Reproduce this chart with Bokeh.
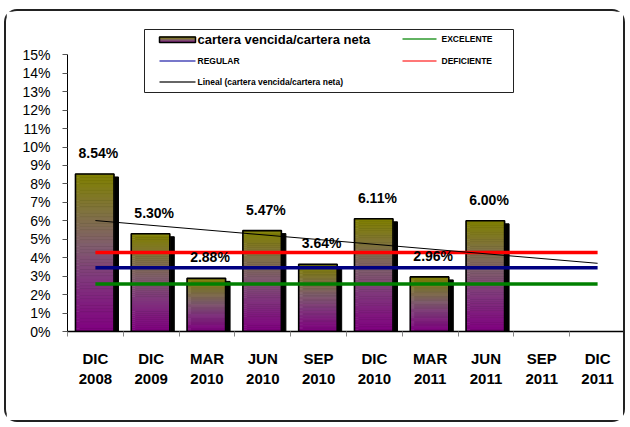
import numpy as np
from bokeh.plotting import figure
from bokeh.models import ColumnDataSource, FixedTicker, Range1d
from bokeh.core.properties import value
from bokeh.embed import file_html
from bokeh.resources import INLINE

# ---------------- data ----------------
categories = ["DIC\n2008", "DIC\n2009", "MAR\n2010", "JUN\n2010", "SEP\n2010",
              "DIC\n2010", "MAR\n2011", "JUN\n2011", "SEP\n2011", "DIC\n2011"]
ratio = [8.54, 5.30, 2.88, 5.47, 3.64, 6.11, 2.96, 6.00]   # cartera vencida/cartera neta (%)
excelente = 2.57
regular = 3.45
deficiente = 4.28
y_ticks = list(range(0, 16))
series_name = "cartera vencida/cartera neta"
legend_names = ["EXCELENTE", "REGULAR", "DEFICIENTE", "Lineal (cartera vencida/cartera neta)"]

# ---------------- layout (page pixels) ----------------
ML, MT, BW = 4, 9, 2          # css margin-left, margin-top, border width
OFF_X, OFF_Y = ML + BW, MT + BW
W, H = 621, 413
FRAME_L, FRAME_R = 67, 625
FRAME_T, ZERO_Y = 22, 331
PX_PER_PCT = 18.447
N_CAT = len(categories)
PX_PER_CAT = (FRAME_R - FRAME_L) / N_CAT
FONT = "Liberation Sans"


def dx(px):
    return (px - FRAME_L) / PX_PER_CAT


def dy(py):
    return (ZERO_Y - py) / PX_PER_PCT


p = figure(width=W, height=H,
           x_range=Range1d(0, N_CAT), y_range=Range1d(0, dy(FRAME_T)),
           output_backend="svg", toolbar_location=None,
           min_border_left=FRAME_L - OFF_X, min_border_right=W - (FRAME_R - OFF_X),
           min_border_top=FRAME_T - OFF_Y, min_border_bottom=H - (ZERO_Y - OFF_Y))
p.styles = {"border": "%dpx solid #222" % BW, "border-radius": "13px",
            "margin-left": "%dpx" % ML, "margin-top": "%dpx" % MT}
p.xgrid.visible = False
p.ygrid.visible = False
p.outline_line_color = None
p.background_fill_color = "white"
p.border_fill_color = "white"

# gradient helper: t=0 bottom (purple) -> t=1 top (olive)
STOPS = [(0.0, (128, 0, 128)), (0.35, (128, 58, 124)), (0.55, (128, 94, 108)),
         (0.75, (128, 114, 66)), (1.0, (128, 128, 0))]


def grad(t):
    for (t0, c0), (t1, c1) in zip(STOPS[:-1], STOPS[1:]):
        if t <= t1:
            f = (t - t0) / (t1 - t0)
            r, g, b = [int(round(a + (bb - a) * f)) for a, bb in zip(c0, c1)]
            return "#%02x%02x%02x" % (r, g, b)
    return "#808000"


BAR_W = 0.69
BAR_SHIFT = -0.012
xc = [i + 0.5 + BAR_SHIFT for i in range(len(ratio))]

# shadows
SX = 4.5 / PX_PER_CAT
SY = 3.0 / PX_PER_PCT
p.quad(left=[x - BAR_W / 2 + SX for x in xc], right=[x + BAR_W / 2 + SX for x in xc],
       top=[v - SY for v in ratio], bottom=0, fill_color="black", line_color="black")

# gradient slices
N = 48
L, R, B, T, C = [], [], [], [], []
for x, v in zip(xc, ratio):
    for k in range(N):
        L.append(x - BAR_W / 2)
        R.append(x + BAR_W / 2)
        B.append(v * k / N)
        T.append(v * (k + 1) / N)
        C.append(grad((k + 0.5) / N))
p.quad(left="l", right="r", bottom="b", top="t", fill_color="c", line_color="c", line_width=0.6,
       source=ColumnDataSource(dict(l=L, r=R, b=B, t=T, c=C)))
# bar outlines
p.quad(left=[x - BAR_W / 2 for x in xc], right=[x + BAR_W / 2 for x in xc],
       top=ratio, bottom=0, fill_color=None, line_color="black", line_width=1.6)

# reference lines
x_first, x_last = 0.5, N_CAT - 0.5
p.segment(x0=[x_first], x1=[x_last], y0=[deficiente], y1=[deficiente], line_color="#ff0000", line_width=3.5)
p.segment(x0=[x_first], x1=[x_last], y0=[regular], y1=[regular], line_color="#000080", line_width=3.5)
p.segment(x0=[x_first], x1=[x_last], y0=[excelente], y1=[excelente], line_color="#008000", line_width=3.5)

# linear trend
xs = np.arange(1, len(ratio) + 1)
m, c0 = np.polyfit(xs, ratio, 1)
p.line(x=[x_first, x_last], y=[m * 1 + c0, m * N_CAT + c0], line_color="black", line_width=1)

# data labels
p.text(x=[i + 0.5 for i in range(len(ratio))], y=ratio, text=["%.2f%%" % v for v in ratio],
       x_offset=3, y_offset=-21, text_align="center", text_baseline="middle",
       text_font=value(FONT), text_font_style="bold", text_font_size="14px", text_color="black")

# ---------------- legend (drawn manually) ----------------
p.quad(left=[dx(144)], right=[dx(513)], top=[dy(29)], bottom=[dy(92)],
       fill_color="white", line_color="#222", line_width=1)
NS = 6
sl, sr, sb, st, sc = [], [], [], [], []
for k in range(NS):
    sl.append(dx(159)); sr.append(dx(195))
    sb.append(dy(42) + (dy(36.5) - dy(42)) * k / NS)
    st.append(dy(42) + (dy(36.5) - dy(42)) * (k + 1) / NS)
    sc.append(grad((k + 0.5) / NS))
p.quad(left=sl, right=sr, bottom=sb, top=st, fill_color=sc, line_color=sc)
p.quad(left=[dx(159)], right=[dx(195)], top=[dy(36.5)], bottom=[dy(42)],
       fill_color=None, line_color="black", line_width=1.5)
p.text(x=[dx(197)], y=[dy(39)], text=[series_name], text_align="left", text_baseline="middle",
       text_font=value(FONT), text_font_style="bold", text_font_size="13px", text_color="black")

leg_lines = [((402, 436, 38.5), "#2e9a2e"), ((159, 195, 60.5), "#4a4ab8"),
             ((402, 436, 60.5), "#ff4a4a"), ((159, 195, 81.5), "#333333")]
leg_text_x = [441, 197, 441, 197]
for ((x0, x1, yy), col), tx, name in zip(leg_lines, leg_text_x, legend_names):
    p.segment(x0=[dx(x0)], x1=[dx(x1)], y0=[dy(yy)], y1=[dy(yy)], line_color=col, line_width=1.6)
    p.text(x=[dx(tx)], y=[dy(yy)], text=[name], text_align="left", text_baseline="middle",
           text_font=value(FONT), text_font_style="bold", text_font_size="8.5px", text_color="black")

# ---------------- axes ----------------
ya = p.yaxis[0]
ya.ticker = FixedTicker(ticks=y_ticks)
ya.major_label_overrides = {t: "%d%%" % t for t in y_ticks}
ya.bounds = (0, 15)
ya.axis_line_color = "black"
ya.axis_line_width = 1
ya.major_tick_out = 5
ya.major_tick_in = 0
ya.major_tick_line_color = "#555"
ya.minor_tick_line_color = None
ya.major_label_text_font = FONT
ya.major_label_text_font_size = "14px"
ya.major_label_text_color = "black"
ya.major_label_standoff = 12

xa = p.xaxis[0]
centers = [i + 0.5 for i in range(N_CAT)]
xa.ticker = FixedTicker(ticks=centers, minor_ticks=list(range(N_CAT + 1)))
xa.major_label_overrides = {c: lab for c, lab in zip(centers, categories)}
xa.axis_line_color = "black"
xa.axis_line_width = 1.5
xa.major_tick_out = 0
xa.major_tick_in = 0
xa.minor_tick_out = 5
xa.minor_tick_in = 0
xa.minor_tick_line_color = "#888"
xa.major_label_text_font = FONT
xa.major_label_text_font_style = "bold"
xa.major_label_text_font_size = "15px"
xa.major_label_text_color = "black"
xa.major_label_standoff = 13

open("out.html", "w").write(file_html(p, INLINE))
